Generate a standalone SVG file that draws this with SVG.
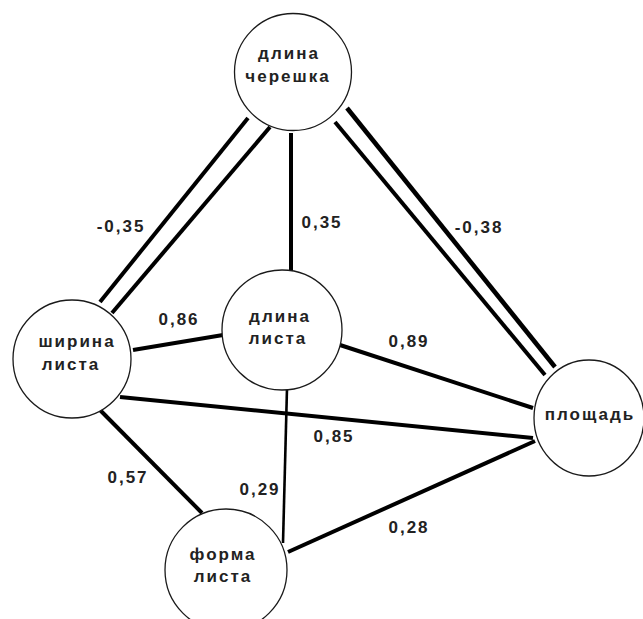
<svg xmlns="http://www.w3.org/2000/svg" width="643" height="619" viewBox="0 0 643 619">
<style>
.node{fill:#fff;stroke:#1a1a1a;stroke-width:1.3}
.e{stroke:#000;stroke-width:4;fill:none;stroke-linecap:butt}
.thin{stroke-width:2.6}
text{font-family:"Liberation Sans",Arial,sans-serif;font-weight:bold;font-size:17px;letter-spacing:2px;fill:#222;text-anchor:middle}
</style>
<rect width="643" height="619" fill="#fff"/>
<g id="connectors">
<line class="e" x1="248" y1="118" x2="100" y2="302"/>
<line class="e" x1="270" y1="127" x2="112" y2="313"/>
<line class="e" x1="291" y1="133" x2="291" y2="272"/>
<line class="e" x1="347" y1="108" x2="555" y2="367" style="stroke-width:4.6"/>
<line class="e" x1="335" y1="122" x2="545" y2="375"/>
<line class="e" x1="340" y1="345" x2="533" y2="408"/>
<line class="e" x1="133" y1="350" x2="223" y2="335"/>
<line class="e" x1="120" y1="397" x2="533" y2="438"/>
<line class="e" x1="100" y1="410" x2="202" y2="513"/>
<line class="e thin" x1="287" y1="388" x2="283" y2="543"/>
<line class="e" x1="288" y1="552" x2="535" y2="441"/>
</g>
<g id="labels">
<text x="121" y="232">-0,35</text>
<text x="322" y="228">0,35</text>
<text x="479" y="233">-0,38</text>
<text x="179" y="325">0,86</text>
<text x="409" y="347">0,89</text>
<text x="334" y="442">0,85</text>
<text x="128" y="483">0,57</text>
<text x="260" y="495">0,29</text>
<text x="409" y="533">0,28</text>
</g>
<g id="node-petiole">
<circle class="node" cx="293" cy="72" r="58.5"/>
<text x="289" y="59">длина</text>
<text x="288" y="82">черешка</text>
</g>
<g id="node-width">
<circle class="node" cx="72" cy="359" r="59"/>
<text x="77" y="347">ширина</text>
<text x="71" y="370">листа</text>
</g>
<g id="node-length">
<circle class="node" cx="282" cy="330" r="60"/>
<text x="280" y="322">длина</text>
<text x="278" y="344">листа</text>
</g>
<g id="node-area">
<ellipse class="node" cx="589" cy="418" rx="55" ry="58"/>
<text x="590" y="420">площадь</text>
</g>
<g id="node-shape">
<circle class="node" cx="226" cy="570" r="61"/>
<text x="223" y="560">форма</text>
<text x="223" y="582">листа</text>
</g>
</svg>
